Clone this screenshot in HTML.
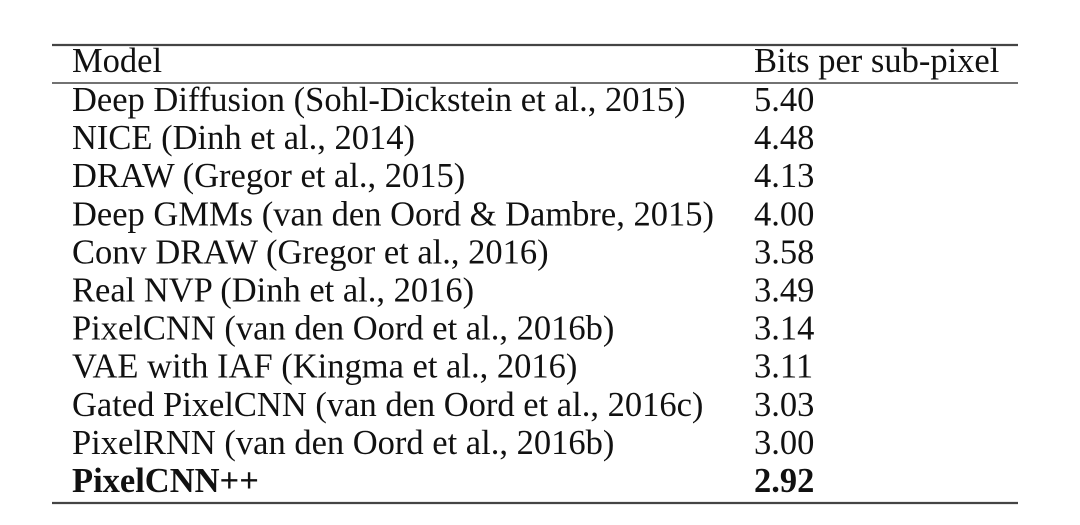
<!DOCTYPE html>
<html><head><meta charset="utf-8"><style>
html,body{margin:0;padding:0;background:#fff;}
svg{display:block;}
text{font-family:"Liberation Serif",serif;font-size:34.5px;fill:#111;}
</style></head><body>
<svg width="1080" height="525">
<line x1="52" y1="45" x2="1018" y2="45" stroke="#444" stroke-width="2.2"/>
<line x1="52" y1="83" x2="1018" y2="83" stroke="#444" stroke-width="1.6"/>
<line x1="52" y1="503" x2="1018" y2="503" stroke="#444" stroke-width="2.2"/>
<text x="72" y="72">Model</text>
<text x="754" y="72">Bits per sub-pixel</text>
<g id="rows"></g>
</svg>
<script>
const models=["Deep Diffusion (Sohl-Dickstein et al., 2015)","NICE (Dinh et al., 2014)","DRAW (Gregor et al., 2015)","Deep GMMs (van den Oord & Dambre, 2015)","Conv DRAW (Gregor et al., 2016)","Real NVP (Dinh et al., 2016)","PixelCNN (van den Oord et al., 2016b)","VAE with IAF (Kingma et al., 2016)","Gated PixelCNN (van den Oord et al., 2016c)","PixelRNN (van den Oord et al., 2016b)","PixelCNN++"];
const bits=["5.40","4.48","4.13","4.00","3.58","3.49","3.14","3.11","3.03","3.00","2.92"];
const g=document.getElementById('rows');
const NS="http://www.w3.org/2000/svg";
models.forEach((m,i)=>{
  const y=111+i*38.1;
  const bold=i===models.length-1;
  const t1=document.createElementNS(NS,'text');
  t1.setAttribute('x',72);t1.setAttribute('y',y);t1.textContent=m;
  if(bold){t1.style.fontWeight='bold';}
  
  
  g.appendChild(t1);
  const t2=document.createElementNS(NS,'text');
  t2.setAttribute('x',754);t2.setAttribute('y',y);t2.textContent=bits[i];
  if(bold){t2.style.fontWeight='bold';}
  
  
  g.appendChild(t2);
});
</script>
</body></html>
